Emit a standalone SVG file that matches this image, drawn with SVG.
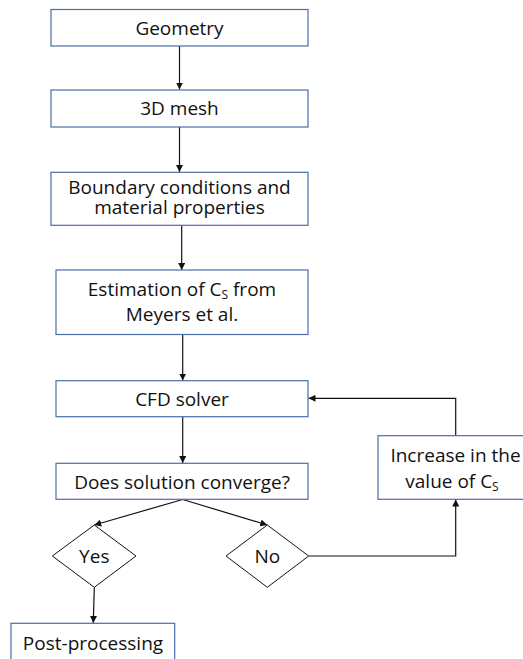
<svg xmlns="http://www.w3.org/2000/svg" width="523" height="659" viewBox="0 0 523 659">
<style>
.box{fill:#fff;stroke:#4a6da7;stroke-width:1.2}
.dia{fill:#fff;stroke:#111;stroke-width:1}
.t{font-family:"Open Sans",Lato,"Liberation Sans",sans-serif;font-size:19px;fill:#111;text-anchor:middle}
.c{fill:none;stroke:#111;stroke-width:1.2}
</style>
<defs>
<marker id="ah" viewBox="0 0 10 10" refX="10" refY="5" markerWidth="7" markerHeight="7" markerUnits="userSpaceOnUse" orient="auto">
<path d="M0,0 L10,5 L0,10 z" fill="#111"/>
</marker>
</defs>
<rect width="523" height="659" fill="#fff"/>
<g id="connectors">
<line class="c" x1="179.5" y1="46" x2="179.5" y2="89.5" marker-end="url(#ah)"/>
<line class="c" x1="179.5" y1="127" x2="179.5" y2="172" marker-end="url(#ah)"/>
<line class="c" x1="181.7" y1="225.5" x2="181.7" y2="270" marker-end="url(#ah)"/>
<line class="c" x1="182.7" y1="334.5" x2="182.7" y2="380.5" marker-end="url(#ah)"/>
<line class="c" x1="182.7" y1="417" x2="182.7" y2="463" marker-end="url(#ah)"/>
<line class="c" x1="182.7" y1="499.5" x2="94.3" y2="525" marker-end="url(#ah)"/>
<line class="c" x1="182.7" y1="499.5" x2="267.3" y2="525" marker-end="url(#ah)"/>
<line class="c" x1="94.3" y1="587.5" x2="93.3" y2="623" marker-end="url(#ah)"/>
<polyline class="c" points="308.7,556 455.7,556 455.7,499.5" marker-end="url(#ah)"/>
<polyline class="c" points="455.7,435.7 455.7,398.3 308.5,398.3" marker-end="url(#ah)"/>
</g>
<g id="geometry">
<rect class="box" x="51" y="9.5" width="257" height="36.5"/>
<text class="t" x="179.5" y="35">Geometry</text>
</g>
<g id="mesh">
<rect class="box" x="51" y="90" width="257" height="37"/>
<text class="t" x="179.5" y="115">3D mesh</text>
</g>
<g id="boundary">
<rect class="box" x="51" y="172.3" width="257" height="53"/>
<text class="t" x="179.5" y="193.5">Boundary conditions and<tspan x="179.5" dy="20.5">material properties</tspan></text>
</g>
<g id="estimation">
<rect class="box" x="56" y="270" width="252" height="64.5"/>
<text class="t" x="182" y="296">Estimation of C<tspan font-size="12" dy="3">S</tspan><tspan dy="-3"> from</tspan><tspan x="182" dy="25">Meyers et al.</tspan></text>
</g>
<g id="cfd">
<rect class="box" x="56" y="380.7" width="252" height="36"/>
<text class="t" x="182" y="406">CFD solver</text>
</g>
<g id="converge">
<rect class="box" x="56" y="463.3" width="252" height="36"/>
<text class="t" x="182" y="489">Does solution converge?</text>
</g>
<g id="increase">
<rect class="box" x="378" y="435.7" width="155" height="63.6"/>
<text class="t" x="455.5" y="461.7">Increase in the<tspan x="452" dy="26.3">value of C</tspan><tspan font-size="12" dy="3">S</tspan></text>
</g>
<g id="yes">
<polygon class="dia" points="94.3,525 136,556 94.3,587.3 52.3,556"/>
<text class="t" x="94.3" y="563">Yes</text>
</g>
<g id="no">
<polygon class="dia" points="267.3,525 308.7,556 267.3,587.3 226,556"/>
<text class="t" x="267.3" y="563">No</text>
</g>
<g id="post">
<rect class="box" x="11" y="623.3" width="163.7" height="45"/>
<text class="t" x="93" y="650">Post-processing</text>
</g>
</svg>
